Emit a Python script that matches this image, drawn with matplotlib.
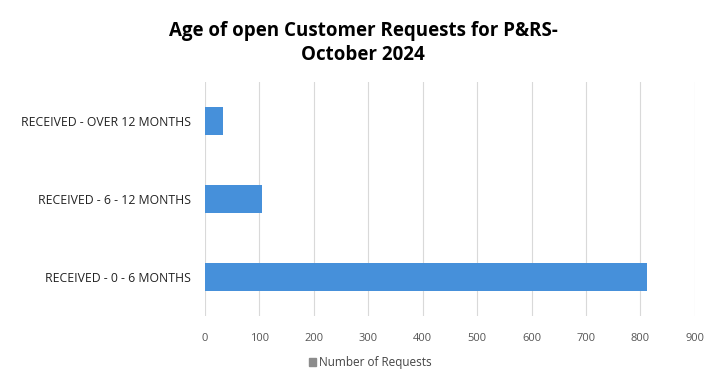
import matplotlib.pyplot as plt

# Data
categories = ['RECEIVED - 0 - 6 MONTHS', 'RECEIVED - 6 - 12 MONTHS', 'RECEIVED - OVER 12 MONTHS']
requests = [812, 104, 33]
xticks = [0, 100, 200, 300, 400, 500, 600, 700, 800, 900]

plt.rcParams['font.family'] = ['Open Sans', 'DejaVu Sans']

fig = plt.figure(figsize=(7.12, 3.78), dpi=100)
ax = fig.add_axes([0.288, 0.164, 0.688, 0.619])

ax.barh(range(len(categories)), requests, height=0.35, color='#4690DA',
        label='Number of Requests', zorder=3)

ax.set_xlim(0, 900)
ax.set_ylim(-0.5, len(categories) - 0.5)
ax.set_xticks(xticks)
ax.set_xticklabels([str(t) for t in xticks], fontsize=8, color='#555555')
ax.set_yticks(range(len(categories)))
ax.set_yticklabels(categories, fontsize=8.8, color='#222222')
ax.tick_params(length=0, pad=10)
ax.tick_params(axis='x', pad=12)
ax.xaxis.grid(True, color='#d9d9d9', linewidth=0.8, zorder=0)
for s in ax.spines.values():
    s.set_visible(False)

fig.suptitle('Age of open Customer Requests for P&RS-\nOctober 2024',
             x=0.51, y=0.945, fontsize=13.5, fontweight='bold', linespacing=1.25)

fig.legend(loc='center', bbox_to_anchor=(0.52, 0.04), frameon=False,
           fontsize=8.5, handlelength=0.6, handleheight=0.6, handletextpad=0.3,
           labelcolor='#444444')
leg_patch = fig.legends[0].get_patches()[0]
leg_patch.set_color('#8c8c8c')

plt.savefig('out.png', dpi=100)
